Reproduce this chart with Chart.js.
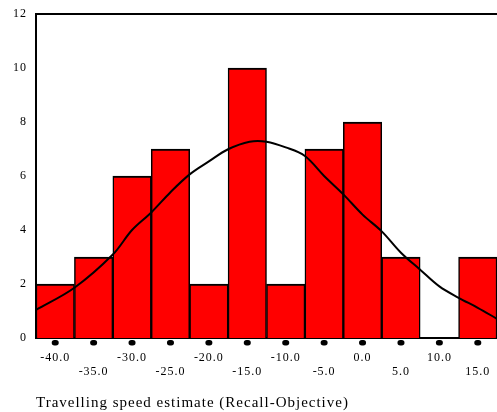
<!DOCTYPE html>
<html><head><meta charset="utf-8">
<script src="https://cdn.jsdelivr.net/npm/chart.js@4"></script>
<style>html,body{margin:0;padding:0;background:#fff}#wrap{width:497px;height:412px;position:relative}</style>
</head><body><div id="wrap"><canvas id="c"></canvas></div>
<script>
const binCenters = [-40, -35, -30, -25, -20, -15, -10, -5, 0, 5, 10, 15];
const frequencies = [2, 3, 6, 7, 2, 10, 2, 7, 8, 3, 0, 3];
const curveX = [-42.5, -37.5, -32.5, -30, -27.5, -25, -22.5, -20, -17.5, -14.7, -12.5, -10, -7.5, -5, -2.5, 0, 2.5, 5, 7.5, 10, 12.5, 15, 17.5];
const curveY = [1.04, 1.86, 3.09, 4.0, 4.65, 5.4, 6.06, 6.54, 6.99, 7.27, 7.27, 7.06, 6.74, 6.0, 5.32, 4.57, 3.95, 3.16, 2.53, 1.91, 1.49, 1.12, 0.71];
const xTickValues = [-40, -35, -30, -25, -20, -15, -10, -5, 0, 5, 10, 15];
const yTickValues = [0, 2, 4, 6, 8, 10, 12];
const xTitle = 'Travelling speed estimate (Recall-Objective)';

const FAMILY = '"Liberation Serif", "Times New Roman", serif';

const spacingPlugin = {
  id: 'spacing',
  beforeDraw(chart) { chart.ctx.letterSpacing = '1px'; }
};
const dotPlugin = {
  id: 'dots',
  afterDraw(chart) {
    const s = chart.scales.x, ctx = chart.ctx, y0 = chart.chartArea.bottom + 2;
    ctx.save();
    ctx.fillStyle = '#000';
    xTickValues.forEach(v => {
      const px = s.getPixelForValue(v);
      ctx.beginPath();
      ctx.roundRect(px - 3.5, y0, 7, 5.5, 2.75);
      ctx.fill();
    });
    ctx.restore();
  }
};

new Chart(document.getElementById('c'), {
  type: 'bar',
  data: {
    datasets: [
      {
        type: 'line',
        data: curveX.map((x, i) => ({ x: x, y: curveY[i] })),
        borderColor: '#000', borderWidth: 2, pointRadius: 0, tension: 0.35, fill: false, order: 0
      },
      {
        type: 'bar',
        data: binCenters.map((x, i) => ({ x: x, y: frequencies[i] })),
        backgroundColor: '#ff0000', borderColor: '#000',
        borderWidth: { top: 2, left: 1.5, right: 1.5, bottom: 0 },
        barPercentage: 1, categoryPercentage: 1, order: 1
      }
    ]
  },
  options: {
    responsive: true, maintainAspectRatio: false, animation: false,
    layout: { padding: { top: 14, left: 0, right: 0, bottom: 0 } },
    plugins: { legend: { display: false }, tooltip: { enabled: false } },
    scales: {
      x: {
        type: 'linear', position: 'bottom', min: -42.5, max: 17.5, offset: false,
        afterBuildTicks: s => { s.ticks = xTickValues.map(v => ({ value: v })); },
        afterFit: s => { s.height = 74; s.paddingLeft = 0; s.paddingRight = 0; },
        grid: { display: false, drawTicks: false, offset: false },
        border: { display: true, color: '#000', width: 2 },
        ticks: {
          autoSkip: false, maxRotation: 0, minRotation: 0, padding: 13, color: '#000',
          font: { family: FAMILY, size: 12, lineHeight: 1.15 },
          callback: (v, i) => { const t = Number(v).toFixed(1); return i % 2 === 0 ? [t, ''] : ['', t]; }
        },
        title: {
          display: true, text: xTitle, align: 'start', color: '#000',
          font: { family: FAMILY, size: 15, lineHeight: 1.2 }, padding: { top: 0, bottom: 0 }
        }
      },
      xTop: {
        type: 'linear', position: 'top', min: -42.5, max: 17.5, display: true,
        afterFit: s => { s.height = 0; s.paddingLeft = 0; s.paddingRight = 0; },
        grid: { display: false, drawTicks: false },
        ticks: { display: false },
        border: { display: true, color: '#000', width: 2 }
      },
      y: {
        type: 'linear', min: 0, max: 12,
        afterBuildTicks: s => { s.ticks = yTickValues.map(v => ({ value: v })); },
        afterFit: s => { s.width = 36; s.paddingTop = 0; s.paddingBottom = 0; },
        grid: { display: false, drawTicks: false },
        border: { display: true, color: '#000', width: 2 },
        ticks: { padding: 9, color: '#000', font: { family: FAMILY, size: 12 } }
      }
    }
  },
  plugins: [spacingPlugin, dotPlugin]
});
</script>
</body></html>
